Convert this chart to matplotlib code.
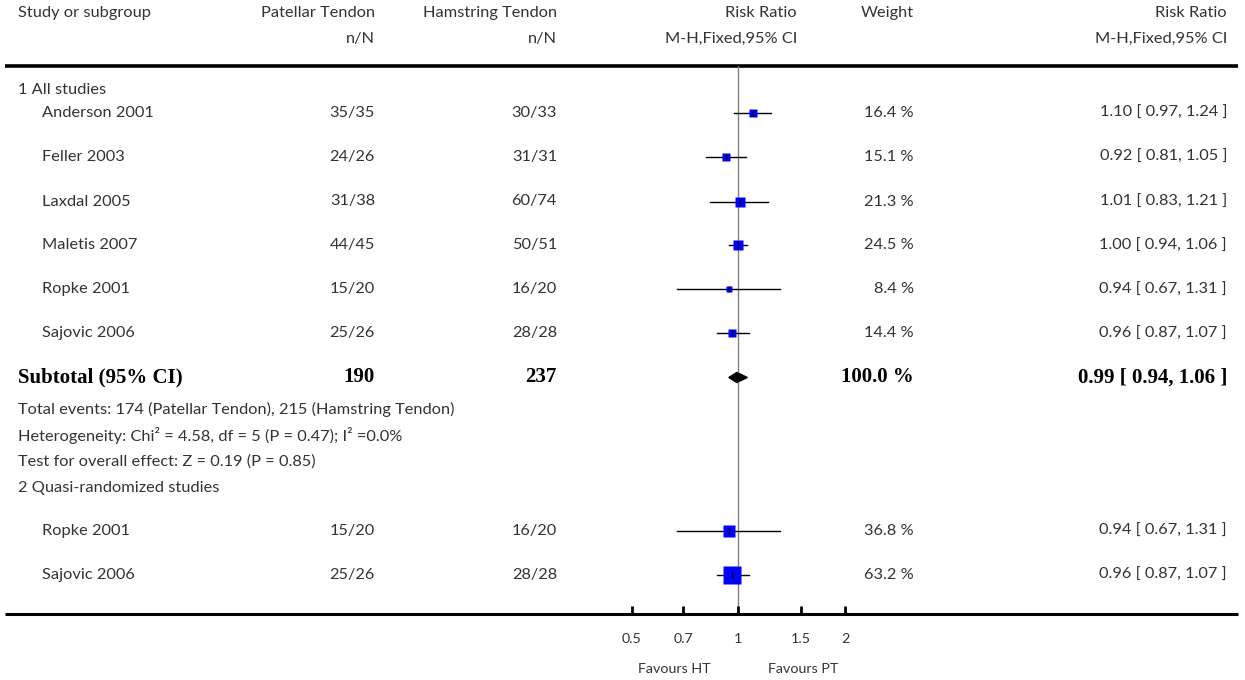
import matplotlib
matplotlib.use("Agg")
import matplotlib.pyplot as plt
import numpy as np

# ---- Data ----
group1_title = "1 All studies"
group1_names = ["Anderson 2001", "Feller 2003", "Laxdal 2005", "Maletis 2007", "Ropke 2001", "Sajovic 2006"]
group1_pt = ["35/35", "24/26", "31/38", "44/45", "15/20", "25/26"]
group1_ht = ["30/33", "31/31", "60/74", "50/51", "16/20", "28/28"]
group1_rr = [1.10, 0.92, 1.01, 1.00, 0.94, 0.96]
group1_lo = [0.97, 0.81, 0.83, 0.94, 0.67, 0.87]
group1_hi = [1.24, 1.05, 1.21, 1.06, 1.31, 1.07]
group1_w = [16.4, 15.1, 21.3, 24.5, 8.4, 14.4]

sub_pt_total = 190
sub_ht_total = 237
sub_w = 100.0
sub_rr, sub_lo, sub_hi = 0.99, 0.94, 1.06

footnotes = [
    "Total events: 174 (Patellar Tendon), 215 (Hamstring Tendon)",
    "Heterogeneity: Chi² = 4.58, df = 5 (P = 0.47); I² =0.0%",
    "Test for overall effect: Z = 0.19 (P = 0.85)",
]

group2_title = "2 Quasi-randomized studies"
group2_names = ["Ropke 2001", "Sajovic 2006"]
group2_pt = ["15/20", "25/26"]
group2_ht = ["16/20", "28/28"]
group2_rr = [0.94, 0.96]
group2_lo = [0.67, 0.87]
group2_hi = [1.31, 1.07]
group2_w = [36.8, 63.2]

ticks = [0.5, 0.7, 1, 1.5, 2]
tick_labels = ["0.5", "0.7", "1", "1.5", "2"]

# ---- Layout (pixels) ----
W, H = 1245, 680
x_name, x_study, x_pt, x_ht, x_rrh, x_w, x_rr = 18, 42, 375, 557, 797, 914, 1227
y_head1, y_head2, y_line = 13, 39, 65.7
y_g1 = 90
y_rows1 = [113.3, 157.3, 201.5, 245.4, 289.4, 333.4]
y_sub = 377.5
y_notes = [409, 435.5, 462]
y_g2 = 488
y_rows2 = [531, 575]
y_axis = 614

plt.rcParams['font.family'] = ['Lato', 'DejaVu Sans']
txt = dict(fontsize=11.8, fontweight='normal', color='#333333', va='center')
small = dict(txt, fontsize=10.3)
bold = dict(fontsize=15, fontweight='bold', family='Liberation Serif', color='black', va='center')

fig = plt.figure(figsize=(W / 100, H / 100), dpi=100)

# text table in pixel coordinates
tab = fig.add_axes([0, 0, 1, 1])
tab.set_xlim(0, W)
tab.set_ylim(H, 0)
tab.axis('off')

tab.text(x_name, y_head1, "Study or subgroup", ha='left', **txt)
tab.text(x_pt, y_head1, "Patellar Tendon", ha='right', **txt)
tab.text(x_ht, y_head1, "Hamstring Tendon", ha='right', **txt)
tab.text(x_rrh, y_head1, "Risk Ratio", ha='right', **txt)
tab.text(x_w, y_head1, "Weight", ha='right', **txt)
tab.text(x_rr, y_head1, "Risk Ratio", ha='right', **txt)
tab.text(x_pt, y_head2, "n/N", ha='right', **txt)
tab.text(x_ht, y_head2, "n/N", ha='right', **txt)
tab.text(x_rrh, y_head2, "M-H,Fixed,95% CI", ha='right', **txt)
tab.text(x_rr, y_head2, "M-H,Fixed,95% CI", ha='right', **txt)
tab.plot([5, 1238], [y_line, y_line], color='black', lw=2.6, solid_capstyle='butt')
tab.plot([5, 1238], [y_axis, y_axis], color='black', lw=2.2, solid_capstyle='butt')


def study_rows(names, pt, ht, w, rr, lo, hi, ys):
    for i, y in enumerate(ys):
        tab.text(x_study, y, names[i], ha='left', **txt)
        tab.text(x_pt, y, pt[i], ha='right', **txt)
        tab.text(x_ht, y, ht[i], ha='right', **txt)
        tab.text(x_w, y, f"{w[i]:.1f} %", ha='right', **txt)
        tab.text(x_rr, y, f"{rr[i]:.2f} [ {lo[i]:.2f}, {hi[i]:.2f} ]", ha='right', **txt)


tab.text(x_name, y_g1, group1_title, ha='left', **txt)
study_rows(group1_names, group1_pt, group1_ht, group1_w, group1_rr, group1_lo, group1_hi, y_rows1)

tab.text(x_name, y_sub, "Subtotal (95% CI)", ha='left', **bold)
tab.text(x_pt, y_sub, str(sub_pt_total), ha='right', **bold)
tab.text(x_ht, y_sub, str(sub_ht_total), ha='right', **bold)
tab.text(x_w, y_sub, f"{sub_w:.1f} %", ha='right', **bold)
tab.text(x_rr, y_sub, f"{sub_rr:.2f} [ {sub_lo:.2f}, {sub_hi:.2f} ]", ha='right', **bold)

for note, y in zip(footnotes, y_notes):
    tab.text(x_name, y, note, ha='left', **txt)

tab.text(x_name, y_g2, group2_title, ha='left', **txt)
study_rows(group2_names, group2_pt, group2_ht, group2_w, group2_rr, group2_lo, group2_hi, y_rows2)

# ---- Forest plot on log scale ----
px_lo, px_hi = 631.7, 845.0
fp = fig.add_axes([px_lo / W, (H - y_axis) / H, (px_hi - px_lo) / W, (y_axis - y_line) / H])
fp.set_xscale('log')
fp.set_xlim(ticks[0], ticks[-1])
fp.set_ylim(y_axis, y_line)
fp.patch.set_alpha(0)
for s in fp.spines.values():
    s.set_visible(False)
fp.set_yticks([])
fp.set_xticks(ticks)
fp.set_xticklabels(tick_labels)
fp.minorticks_off()
fp.tick_params(axis='x', direction='in', length=6, width=2, pad=14,
               labelsize=10.3, labelcolor='#333333')

fp.axvline(1, color='#808080', lw=1, zorder=1)


def forest(rr, lo, hi, w, ys):
    for i, y in enumerate(ys):
        fp.plot([lo[i], hi[i]], [y, y], color='black', lw=1, zorder=2, clip_on=False)
        side = 2.14 * np.sqrt(w[i]) * 0.72
        fp.plot(rr[i], y, marker='s', ms=side, color='#0000ff', mec='none', zorder=3, clip_on=False)
        fp.plot(rr[i], y, marker='|', ms=4, mew=1, color='black', zorder=4, clip_on=False)


forest(group1_rr, group1_lo, group1_hi, group1_w, y_rows1)
forest(group2_rr, group2_lo, group2_hi, group2_w, y_rows2)
fp.fill([sub_lo, sub_rr, sub_hi, sub_rr], [y_sub, y_sub - 5, y_sub, y_sub + 5],
        color='black', zorder=3, clip_on=False)

tab.text(674, 669, "Favours HT", ha='center', **small)
tab.text(803, 669, "Favours PT", ha='center', **small)

fig.savefig("out.png", dpi=100)
